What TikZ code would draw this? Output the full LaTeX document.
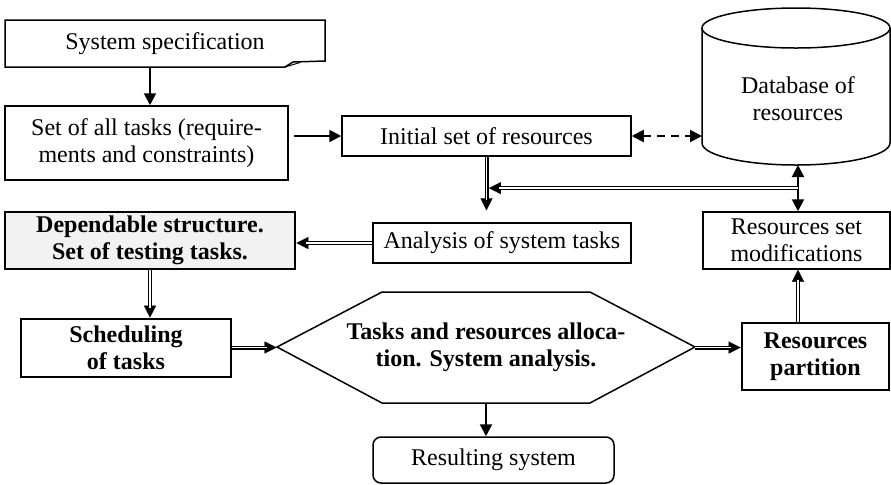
\documentclass[tikz,border=0pt]{standalone}
\usepackage{fontspec}
\setmainfont{Liberation Serif}
\usetikzlibrary{arrows.meta,calc}
% double-line connector with a solid arrow head:
% a hairline carries the head, the double line is laid over it
\newcommand\dblconn[3][0pt]{%
  \draw[tipline, shorten >=#1] #2 -- #3;
  \draw[dblline, shorten >=#1+5pt] #2 -- #3;}
\begin{document}
\begin{tikzpicture}[x=0.5pt,y=-0.5pt,
  txt/.style={font=\fontsize{12}{13.5}\selectfont, align=center, inner sep=0pt},
  box/.style={txt, draw, line width=0.75pt, fill=white},
  bbox/.style={box, line width=1.3pt, font=\fontsize{12}{13.5}\selectfont\bfseries},
  head/.style={Triangle[length=6pt,width=6pt]},
  arr/.style={line width=1pt, -{Triangle[length=6pt,width=6pt]}},
  darr/.style={line width=1pt, dash pattern=on 4pt off 3pt,
    {Triangle[length=6pt,width=6pt]}-{Triangle[length=6pt,width=6pt]}},
  tipline/.style={line width=0.1pt, -{Triangle[length=6pt,width=6pt]}},
  dblline/.style={double, double distance=0.8pt, line width=0.6pt},
  outline/.style={line width=0.75pt}
]
\useasboundingbox (0,0) rectangle (891,484);

% document-shaped specification box
\draw[outline, fill=white] (5,20) -- (325,20) -- (325,61) -- (293,62) -- (285,67) -- (5,67) -- cycle;
\draw[line width=0.5pt] (285,67) -- (300,62.5);
\node[txt, minimum width=160pt, minimum height=23.5pt] (spec) at (165,43.5) {System specification};

% resource database cylinder
\draw[outline, fill=white] (702,28) -- (702,143)
  arc[start angle=180, end angle=360, x radius=47pt, y radius=11pt] -- (890,28);
\draw[outline, fill=white] (796,28) ellipse[x radius=47pt, y radius=10pt];
\node[txt] (db) at (798,99) {Database of\\resources};
\coordinate (dbL) at (702,140);
\coordinate (dbB) at (798,165);

% process boxes
\node[box, minimum width=141.5pt, minimum height=37pt] (tasks) at (146.5,143)
  {Set of all tasks (require-\\ments and constraints)};
\node[box, minimum width=144.5pt, minimum height=20pt] (init) at (486.5,136)
  {Initial set of resources};
\node[box, minimum width=129pt, minimum height=20pt] (anal) at (502,243)
  {Analysis of system tasks};
\node[bbox, fill=black!5, minimum width=145pt, minimum height=28.5pt] (dep) at (150,240.5)
  {Dependable structure.\\Set of testing tasks.};
\node[box, minimum width=93.5pt, minimum height=28.5pt] (mod) at (796.5,240.5)
  {Resources set\\modifications};
\node[bbox, minimum width=105pt, minimum height=29pt] (sched) at (126,348)
  {Scheduling\\of tasks};
\node[bbox, minimum width=73.5pt, minimum height=33.5pt] (part) at (815.5,356.5)
  {Resources\\partition};
\node[box, rounded corners=4pt, minimum width=120.5pt, minimum height=23pt] (res) at (493.5,460)
  {Resulting system};

% allocation hexagon
\draw[outline, fill=white] (277,347) -- (382,292) -- (590,292) -- (695,347) -- (590,403) -- (382,403) -- cycle;
\node[txt, font=\fontsize{12}{13.5}\selectfont\bfseries, minimum width=209pt, minimum height=55.5pt]
  (alloc) at (486,347.5) {Tasks and resources alloca-\\tion. System analysis.};

% connectors
\draw[arr] (spec.south -| dep) -- (tasks.north -| dep);
\draw[arr, shorten <=2.5pt] (tasks.east |- init.west) -- (init.west);
\draw[darr] (init.east) -- (dbL |- init.east);
\dblconn[6pt]{(init.south)}{(init.south |- anal.north)}
\coordinate (junc) at ($(dbB)!0.5!(mod.north -| dbB)$);
\draw[line width=1pt, {Triangle[length=6pt,width=6pt]}-{Triangle[length=6pt,width=6pt]}]
  (dbB) -- (mod.north -| dbB);
\dblconn[1.2pt]{(junc)}{(junc -| init.south)}
\dblconn{(anal.west)}{(dep.east |- anal.west)}
\dblconn{(dep.south)}{(dep.south |- sched.north)}
\dblconn{(sched.east |- alloc.west)}{(alloc.west)}
\dblconn{(alloc.east)}{(alloc.east -| part.west)}
\dblconn{(part.north -| dbB)}{(mod.south -| dbB)}
\draw[arr] (alloc.south) -- (alloc.south |- res.north);
\end{tikzpicture}
\end{document}
